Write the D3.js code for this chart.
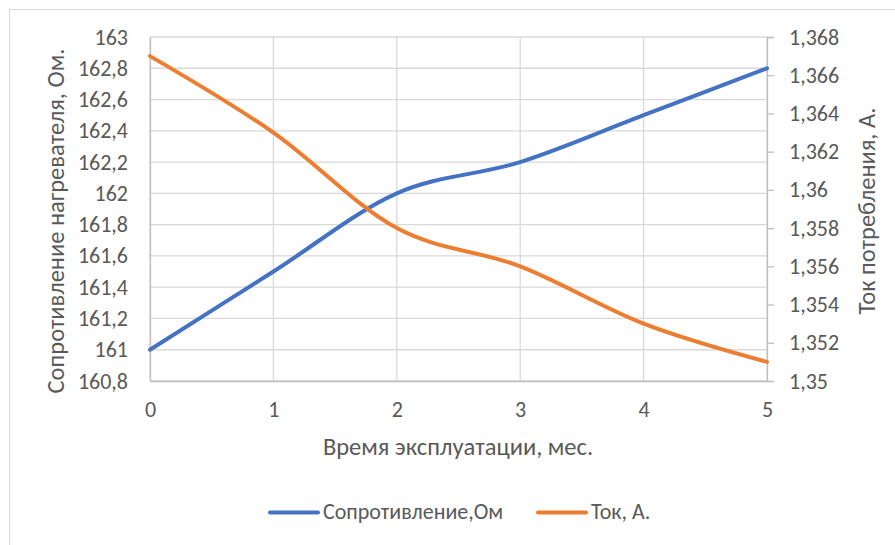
<!DOCTYPE html>
<html>
<head>
<meta charset="utf-8">
<script src="https://cdn.jsdelivr.net/npm/d3@7"></script>
<style>
  html, body { margin: 0; padding: 0; background: #fff; }
  svg text { font-family: Carlito, Lato, "Open Sans", sans-serif; fill: #595959; }
</style>
</head>
<body>
<svg id="chart" width="895" height="545"></svg>
<script>
// Operating time, months
const months = [0, 1, 2, 3, 4, 5];
// Heater resistance, Ohm
const resistance = [161, 161.5, 162, 162.2, 162.5, 162.8];
// Consumed current, A
const current = [1.367, 1.363, 1.358, 1.356, 1.353, 1.351];

const leftTicks = [160.8, 161, 161.2, 161.4, 161.6, 161.8, 162, 162.2, 162.4, 162.6, 162.8, 163];
const rightTicks = [1.35, 1.352, 1.354, 1.356, 1.358, 1.36, 1.362, 1.364, 1.366, 1.368];

const seriesNames = ["Сопротивление,Ом", "Ток, А."];
const colors = ["#4472C4", "#ED7D31"];

const svg = d3.select("#chart");
const fmt = v => String(+v.toFixed(3)).replace(".", ",");
const TICK_FS = 22, TITLE_FS = 24.5, LEGEND_FS = 22;

// chart frame
svg.append("rect")
  .attr("x", 9.5).attr("y", 9.5).attr("width", 900).attr("height", 560)
  .attr("fill", "none").attr("stroke", "#d9d9d9").attr("stroke-width", 1);

const L = 150, R = 767, T = 37, B = 381;
const x = d3.scaleLinear().domain([0, 5]).range([L, R]);
const yL = d3.scaleLinear().domain([160.8, 163]).range([B, T]);
const yR = d3.scaleLinear().domain([1.35, 1.368]).range([B, T]);

// gridlines
const grid = svg.append("g").attr("stroke", "#d9d9d9").attr("stroke-width", 1.3);
leftTicks.forEach(t => grid.append("line")
  .attr("x1", L).attr("x2", R).attr("y1", yL(t)).attr("y2", yL(t)));
months.forEach(m => grid.append("line")
  .attr("x1", x(m)).attr("x2", x(m)).attr("y1", T).attr("y2", B));

// bottom axis
const xAxis = svg.append("g").attr("transform", `translate(0,${B})`)
  .call(d3.axisBottom(x).tickValues(months).tickSize(0).tickPadding(20).tickFormat(d => d));
xAxis.select(".domain").attr("stroke", "#bfbfbf").attr("stroke-width", 1.3);
xAxis.selectAll("text").attr("font-size", TICK_FS).style("fill", "#595959");

// left axis
const lAxis = svg.append("g").attr("transform", `translate(${L},0)`)
  .call(d3.axisLeft(yL).tickValues(leftTicks).tickSize(0).tickPadding(22).tickFormat(fmt));
lAxis.select(".domain").attr("stroke", "#bfbfbf").attr("stroke-width", 1.3);
lAxis.selectAll("text").attr("font-size", TICK_FS).style("fill", "#595959");

// right axis
const rAxis = svg.append("g").attr("transform", `translate(${R},0)`)
  .call(d3.axisRight(yR).tickValues(rightTicks).tickSize(7).tickPadding(15).tickFormat(fmt));
rAxis.select(".domain").attr("stroke", "#bfbfbf").attr("stroke-width", 1.3);
rAxis.selectAll(".tick line").attr("stroke", "#bfbfbf").attr("stroke-width", 1.3);
rAxis.selectAll("text").attr("font-size", TICK_FS).style("fill", "#595959");

// series lines
const curve = d3.curveCatmullRom.alpha(0);
const lineL = d3.line().x((d, i) => x(months[i])).y(d => yL(d)).curve(curve);
const lineR = d3.line().x((d, i) => x(months[i])).y(d => yR(d)).curve(curve);
svg.append("path").datum(resistance).attr("d", lineL)
  .attr("fill", "none").attr("stroke", colors[0]).attr("stroke-width", 4).attr("stroke-linecap", "round");
svg.append("path").datum(current).attr("d", lineR)
  .attr("fill", "none").attr("stroke", colors[1]).attr("stroke-width", 4).attr("stroke-linecap", "round");

// axis titles
svg.append("text").attr("x", 458).attr("y", 455).attr("text-anchor", "middle")
  .attr("font-size", TITLE_FS).text("Время эксплуатации, мес.");
svg.append("text").attr("transform", `translate(64,221) rotate(-90)`)
  .attr("text-anchor", "middle").attr("font-size", TITLE_FS).text("Сопротивление нагревателя, Ом.");
svg.append("text").attr("transform", `translate(875,211) rotate(-90)`)
  .attr("text-anchor", "middle").attr("font-size", TITLE_FS).text("Ток потребления, А.");

// legend
const legend = [{x: 270, name: seriesNames[0], c: colors[0]}, {x: 538, name: seriesNames[1], c: colors[1]}];
legend.forEach(l => {
  svg.append("line").attr("x1", l.x).attr("x2", l.x + 48).attr("y1", 512.5).attr("y2", 512.5)
    .attr("stroke", l.c).attr("stroke-width", 4).attr("stroke-linecap", "round");
  svg.append("text").attr("x", l.x + 53).attr("y", 519).attr("font-size", LEGEND_FS).text(l.name);
});
</script>
</body>
</html>
